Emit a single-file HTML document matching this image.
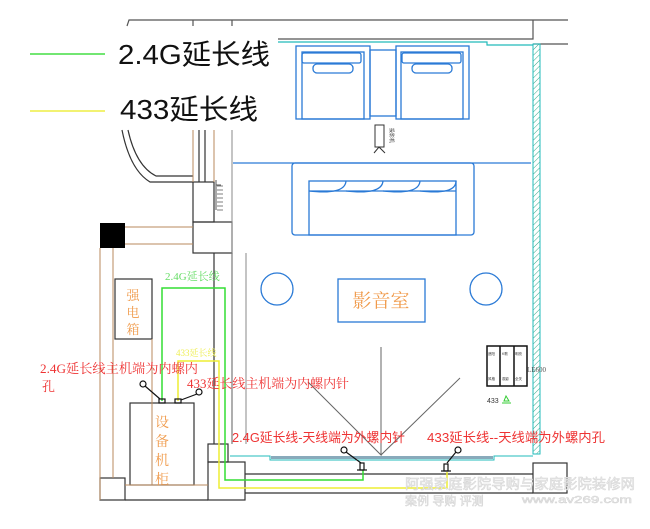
<!DOCTYPE html>
<html><head><meta charset="utf-8"><style>
html,body{margin:0;padding:0;background:#fff;width:650px;height:529px;overflow:hidden}
svg{display:block}
text{font-family:"Liberation Sans","Noto Sans CJK SC",sans-serif}
.s{font-family:"Liberation Serif","Noto Serif CJK SC",serif}
</style></head><body>
<svg width="650" height="529" viewBox="0 0 650 529" xmlns="http://www.w3.org/2000/svg">
<defs><pattern id="h" width="4" height="4" patternUnits="userSpaceOnUse" patternTransform="rotate(45)"><line x1="0" y1="0" x2="0" y2="4" stroke="#3a8" stroke-width="1"/></pattern></defs>
<g stroke="#555" fill="none" stroke-width="1.2">
<path d="M127,26 L129,20 L568,20"/>
<path d="M193,20 V26 M232,20 V26"/>
<path d="M278,39 H533 V20 M533,44 H568"/>
</g>
<path d="M278,42 H487 V45 H533" stroke="#2bb" fill="none" stroke-width="1.2"/>
<rect x="533" y="44" width="7" height="410" fill="url(#h)" stroke="#2bb"/>
<line x1="30" y1="54" x2="105" y2="54" stroke="#4d4" stroke-width="1.5"/>
<text x="118" y="64" font-size="28" fill="#111" textLength="152" lengthAdjust="spacingAndGlyphs">2.4G延长线</text>
<line x1="30" y1="111" x2="105" y2="111" stroke="#ee4" stroke-width="1.5"/>
<text x="120" y="119" font-size="28" fill="#111" textLength="138" lengthAdjust="spacingAndGlyphs">433延长线</text>
<g stroke="#2a7ad6" fill="none" stroke-width="1.3">
<rect x="296" y="46" width="74" height="73"/><rect x="302" y="52" width="62" height="67"/>
<rect x="302" y="53" width="59" height="10" rx="2"/><rect x="313" y="64" width="40" height="9" rx="4"/>
<rect x="370" y="50" width="26" height="66"/>
<rect x="396" y="46" width="73" height="73"/><rect x="401" y="52" width="62" height="67"/>
<rect x="402" y="53" width="59" height="10" rx="2"/><rect x="412" y="64" width="40" height="9" rx="4"/>
<line x1="233" y1="163" x2="531" y2="163"/>
<rect x="292" y="163" width="182" height="72" rx="3"/>
<rect x="309" y="181" width="147" height="54"/>
<path d="M309,191 Q345,195 346,181 M346,191 Q382,195 383,181 M383,191 Q419,195 420,181 M420,191 Q456,195 456,181" />
<line x1="309" y1="191" x2="456" y2="191"/>
<circle cx="277" cy="289" r="16"/><circle cx="486" cy="289" r="16"/>
<rect x="338" y="279" width="87" height="43"/>
</g>
<rect x="375" y="125" width="9" height="22" fill="none" stroke="#333"/>
<path d="M374,153 L379,147 L385,153" fill="none" stroke="#333"/>
<text x="390" y="128" font-size="5" fill="#333" transform="rotate(90 390 128)">投影机</text>
<text x="381" y="307" font-size="19" fill="#f09a4a" text-anchor="middle" class="s">影音室</text>
<g stroke="#333" fill="none" stroke-width="1.2">
<path d="M122,130 Q130,170 150,182 H193"/>
<path d="M128,130 Q136,166 156,176 H193"/>
<rect x="193" y="182" width="21" height="40"/>
<rect x="193" y="222" width="39" height="31"/>
<path d="M199,130 V182 M205,130 V182 M214,253 V444 M232,253 V444"/>
<rect x="208" y="462" width="37" height="38"/><rect x="208" y="444" width="20" height="18"/>
<rect x="100" y="478" width="25" height="22"/>
<path d="M245,474 H533 M245,493 H533 M125,500 H208"/>
<rect x="533" y="463" width="34" height="30"/>
<rect x="115" y="279" width="37" height="60"/>
<rect x="130" y="403" width="64" height="82"/>
</g>
<g stroke="#b98a5e" fill="none" stroke-width="1">
<path d="M193,130 V182 M214,130 V182 M125,227 H193 M125,244 H193 M100,248 V500 M113,248 V478 M125,485 H208 M152,339 V485"/>
</g>
<path d="M232,130 V444 M246,253 V444" stroke="#888" fill="none"/>
<path d="M216,205 V180 M216,185 h5 M216,210 v-25" stroke="#555" fill="none"/>
<g stroke="#555" fill="none" stroke-width="0.8"><path d="M217,186 h6 M217,190 h6 M217,194 h6 M217,198 h6 M217,202 h6 M217,206 h6 M217,210 h6"/></g>
<rect x="100" y="223" width="25" height="25" fill="#000"/>
<text x="133" y="300" font-size="13" fill="#f09a4a" text-anchor="middle" class="s">强</text>
<text x="133" y="317" font-size="13" fill="#f09a4a" text-anchor="middle" class="s">电</text>
<text x="133" y="334" font-size="13" fill="#f09a4a" text-anchor="middle" class="s">箱</text>
<text x="162" y="427" font-size="14" fill="#f09a4a" text-anchor="middle" class="s">设</text>
<text x="162" y="446" font-size="14" fill="#f09a4a" text-anchor="middle" class="s">备</text>
<text x="162" y="465" font-size="14" fill="#f09a4a" text-anchor="middle" class="s">机</text>
<text x="162" y="484" font-size="14" fill="#f09a4a" text-anchor="middle" class="s">柜</text>
<path d="M230,456 H270 V460 H494 V456 H533" stroke="#2bb" fill="none"/>
<rect x="271" y="456" width="222" height="3" fill="#8ab" />
<path d="M381,347 V455 L308,382 M381,455 L460,378" stroke="#666" fill="none"/>
<path d="M162,401 V288 H225 V480 H363 V470" stroke="#3d3" fill="none" stroke-width="1.5"/>
<path d="M178,401 V361 H219 V488 H447 V472" stroke="#ee3" fill="none" stroke-width="1.5"/>
<g stroke="#111" fill="none" stroke-width="1.2">
<rect x="159" y="399" width="6" height="4"/><rect x="175" y="399" width="6" height="4"/>
<circle cx="143" cy="384" r="3"/><line x1="145" y1="386" x2="160" y2="399"/>
<circle cx="199" cy="392" r="3"/><line x1="197" y1="394" x2="181" y2="400"/>
<circle cx="344" cy="450" r="3"/><line x1="346" y1="452" x2="361" y2="463"/>
<rect x="360" y="463" width="4" height="7"/><line x1="357" y1="470" x2="367" y2="470"/>
<circle cx="458" cy="450" r="3"/><line x1="456" y1="452" x2="447" y2="463"/>
<rect x="444" y="464" width="4" height="7"/><line x1="441" y1="471" x2="451" y2="471"/>
</g>
<text x="165" y="280" font-size="11" fill="#6d6" class="s">2.4G延长线</text>
<text x="176" y="356" font-size="9" fill="#ee5" class="s">433延长线</text>
<text x="40" y="373" font-size="13" fill="#e33" class="s" textLength="158" lengthAdjust="spacingAndGlyphs">2.4G延长线主机端为内螺内</text>
<text x="42" y="391" font-size="13" fill="#e33" class="s">孔</text>
<text x="187" y="388" font-size="13" fill="#e33" class="s" textLength="162" lengthAdjust="spacingAndGlyphs">433延长线主机端为内螺内针</text>
<text x="232" y="442" font-size="13" fill="#e33" textLength="173" lengthAdjust="spacingAndGlyphs">2.4G延长线-天线端为外螺内针</text>
<text x="427" y="442" font-size="13" fill="#e33" textLength="178" lengthAdjust="spacingAndGlyphs">433延长线--天线端为外螺内孔</text>
<g stroke="#111" fill="none" stroke-width="1.5"><rect x="487" y="346" width="40" height="40"/><line x1="500" y1="346" x2="500" y2="386"/><line x1="514" y1="346" x2="514" y2="386"/></g>
<g font-size="3.5" fill="#333"><text x="488" y="355">遮阳</text><text x="502" y="355">K歌</text><text x="515" y="355">明亮</text><text x="488" y="380">风格</text><text x="502" y="380">观影</text><text x="515" y="380">全关</text></g>
<text x="527" y="372" font-size="7" fill="#555" class="s">LE600</text>
<text x="487" y="403" font-size="7" fill="#333">433</text>
<path d="M506,396 l-2,5 h5 z M502,403 h9" stroke="#3c3" fill="none"/>
<text x="405" y="489" font-size="14" fill="#eee" stroke="#d4d4d4" stroke-width="0.5" textLength="230" lengthAdjust="spacingAndGlyphs">阿强家庭影院导购与家庭影院装修网</text>
<text x="405" y="505" font-size="12" fill="#eee" stroke="#d4d4d4" stroke-width="0.5">案例 导购 评测</text>
<text x="522" y="503" font-size="10" fill="#eee" stroke="#d4d4d4" stroke-width="0.5" textLength="110" lengthAdjust="spacingAndGlyphs">www.av269.com</text>
</svg>
</body></html>
